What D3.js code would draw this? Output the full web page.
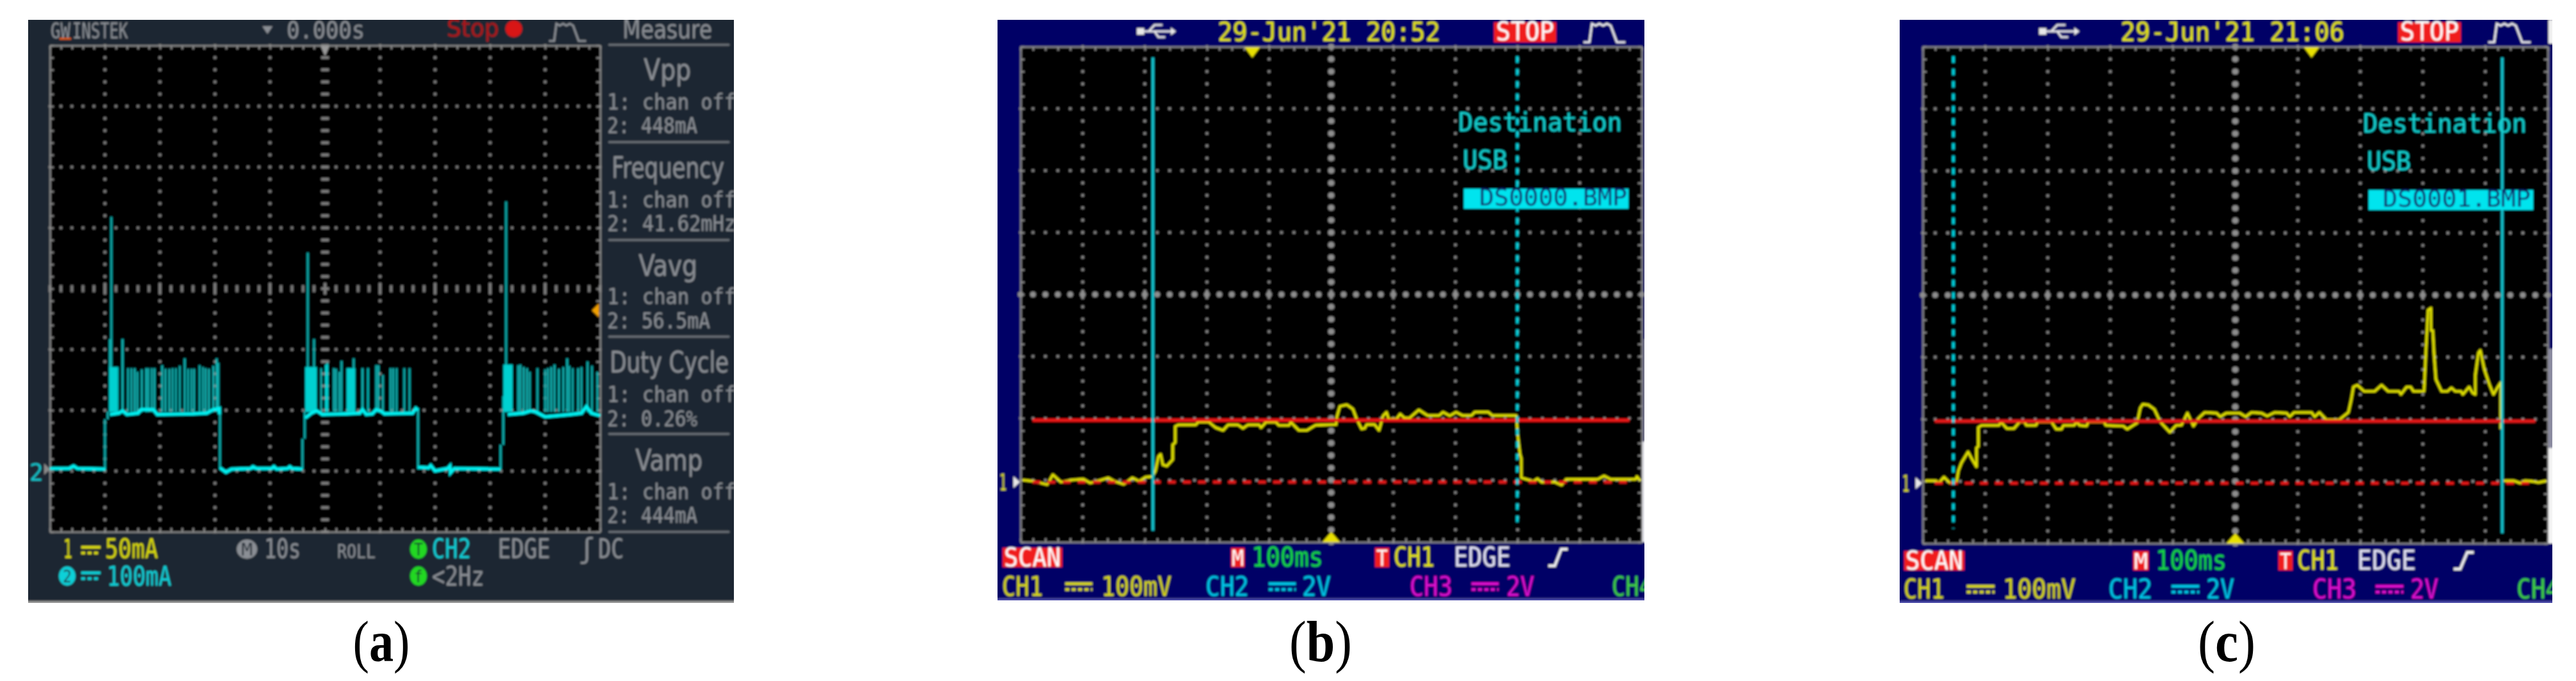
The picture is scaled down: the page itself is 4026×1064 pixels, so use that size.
<!DOCTYPE html>
<html><head><meta charset="utf-8">
<script src="https://cdn.jsdelivr.net/npm/d3@7/dist/d3.min.js"></script>
<style>html,body{margin:0;padding:0;background:#fff}svg{display:block}</style>
</head><body><div id="chart"></div>
<script>
// ---------- values ----------
// Panel (a): 10 s/div, 100 mA/div, time in s, current in mA
const aLow1=[[0,1],[3.5,1],[4.3,5],[5,1],[10.1,0]];
const aLow2=[[30.9,2],[32,-5],[33,0],[36.5,1],[36.9,4],[37.5,1],[40.3,1],[40.7,4],[41.2,0],[43.2,1],[43.6,4],[44,1],[45.9,0]];
const aLow3=[[66.9,3],[68.8,2],[69.2,6],[70,-3],[72.3,1],[72.7,5],[72.8,-6],[73.5,1],[81.9,0]];
const aHigh1=[[10.9,90],[12.5,92],[13.2,96],[14,90],[16,92],[16.6,98],[18.8,98],[19.5,90],[26,91],[28.5,92],[29.7,98],[30.8,100],[30.8,90]];
const aHigh2=[[46.4,84],[47.5,92],[48.5,96],[49.5,90],[53.9,91],[56.3,92],[56.8,98],[57.5,90],[58.6,91],[59.3,98],[60.2,95],[60.8,91],[65.9,92],[66.5,100],[66.9,97]];
const aHigh3=[[83.2,90],[86,92],[87.4,96],[88.3,94],[90,86],[94.6,90],[96.6,92],[97.5,103],[98.4,92],[100,88]];
const aEdges=[[10.0,0,82],[10.5,82,95],[30.9,100,0],[45.9,0,50],[46.3,50,95],[66.9,100,0],[81.9,0,40],[82.4,40,120]];
const aBlocks=[[10.8,12.25,168],[46.4,48.5,168],[50,50.6,172],[53.9,55.5,166],[57.8,57.9,166],[82.4,84.1,172]];
const aSpikes=[[10.9,214],[11.16,415],[12.3,168],[13.2,214],[14.2,166],[14.8,166],[15.4,166],[15.9,160],[16.7,164],[17.5,166],[17.9,166],[18.5,166],[19,166],[20.4,171],[21,165],[21.7,165],[22.3,166],[22.9,166],[23.6,170],[24.5,182],[25.1,165],[25.7,165],[26.2,165],[27.2,171],[27.8,168],[28.3,166],[28.9,165],[29.7,170],[30.3,182],[30.6,175],[46.86,356],[48.0,214],[49.3,166],[50.4,175],[51.6,166],[52,165],[52.6,160],[53,178],[55.2,182],[56.8,166],[57.8,166],[59.3,171],[59.7,171],[60.5,155],[61.9,166],[62.4,166],[63,166],[64.4,166],[65.35,166],[82.9,440],[85.1,171],[85.5,172],[86.1,168],[86.7,166],[87.2,160],[88.6,166],[90,164],[90.5,166],[91.1,168],[91.7,172],[92.5,165],[93.3,168],[94,182],[94.4,170],[95,166],[96,166],[96.6,168],[97.7,177],[98.5,170],[99.5,160]];
const aTopSpikesBase=94;
// Panel (b): 100 ms/div, 100 mV/div, time in ms from screen left, volts in mV above ground
const traceB=[[3,3.5],[21,1.4],[43,-4],[52,12],[65,0],[83,3.5],[101,5],[112,-1.4],[130,3.5],[141,7],[151,1.4],[166,-3.5],[180,7],[191,1.4],[201,8],[212,9],[217,17.5],[222,41.6],[225.5,45],[229,28],[235.6,26],[245,36.5],[245,60.5],[249,64],[249,90],[254,92.5],[282,92.5],[286,97],[303,97],[314,88],[326,83.6],[334,92.5],[350,92.5],[358,87],[366,92.5],[384,92.5],[387,88],[395,96.7],[411,96.7],[416,91.5],[432,91.5],[435,96.7],[448,83.6],[461,83.6],[475,92],[508,93],[509,105],[514,122.5],[525,125],[535,118],[541,102],[549,86],[554,87],[557,93],[570,93],[577,83.6],[583.5,107],[589,113],[592.5,102],[605,102],[611,110],[618,103.5],[626,103.5],[641,116.6],[655,107.7],[674,107.7],[680,113],[691,107],[701,113],[711,107.7],[726,107.7],[731,113],[753,113],[759,107.7],[798,107.7],[800,78],[804,45],[806,38],[806,7],[814.5,4.5],[825,1],[832,5.5],[839,-0.3],[859.5,0.3],[871,-4.8],[878,4.5],[929,4.5],[939,10],[950,4.5],[990,4.5],[992,9],[998,2]];
const refB=[19.5,980], levelB=100, cursorsB=[213,799.5], triggerB=373;
// Panel (c): same units as (b)
const traceC1=[[4,4],[21,4],[26,0.7],[34,10],[43,0.7],[54,0.7],[57,19.6],[62,33],[72.5,50.5],[79,38.5],[86,26.5],[86,57],[89,59],[89,90],[94,93],[122,93],[125,98.6],[134.6,88],[146,88],[155,98.6],[162.6,98.6],[166,93],[181,93],[184,98.6],[206,98.6],[213.5,87],[222,87],[225,93],[242,93],[246.4,98.6],[251,93],[262,92],[265,98.6],[290,98.6],[293,93],[321,92],[327,87],[336.5,93],[343,97],[348,121],[352,127],[361,126],[370.6,119],[380,98.6],[395.5,82],[405,93],[414,93.5],[423.4,113],[433,92],[442,105.5],[451,114],[470,113],[476,107],[485.5,113],[507,113],[516.6,107],[526,114],[541.4,113],[551,108],[563,114],[582,113],[587,107],[594,114],[622,114],[627,107],[634.5,114],[646,102],[666,102],[681,114],[685.5,134.7],[689,155],[695.4,158],[706,148],[723,148],[734,158],[744.5,148],[762,148],[765,143],[774,155],[780.5,155],[785,148],[802,148],[805,214],[808.4,279],[813,282],[813,246],[816,246],[818,207],[821,167],[830,148],[839.5,148],[845.7,153.6],[852,148],[861,148],[864,143],[874,155],[880,145],[884,143],[884,174],[889,210],[892,214],[898.5,183],[906.5,159],[913,143],[920,155],[924.5,162],[924.5,87]];
const traceC2=[[929.5,4],[945,4],[956,0],[963.7,4],[975,3],[985,1],[998,4]];
const refC=[19.5,980], levelC=100, cursorsC=[49,927], triggerC=622;
// Text
const measureTitles=["Vpp","Frequency","Vavg","Duty Cycle","Vamp"];
const measureCh1=["1: chan off","1: chan off","1: chan off","1: chan off","1: chan off"];
const measureCh2=["2: 448mA","2: 41.62mHz","2: 56.5mA","2: 0.26%","2: 444mA"];
const dateB="29-Jun'21 20:52", dateC="29-Jun'21 21:06";
const fileB="DS0000.BMP", fileC="DS0001.BMP";

// ---------- drawing ----------
const W=4026,H=1064;
const svg=d3.select("#chart").append("svg").attr("width",W).attr("height",H).attr("viewBox",`0 0 ${W} ${H}`);
svg.append("rect").attr("width",W).attr("height",H).attr("fill","#fff");
const defs=svg.append("defs");
defs.append("filter").attr("id","soft").attr("filterUnits","userSpaceOnUse").attr("x",0).attr("y",0).attr("width",W).attr("height",H)
  .append("feGaussianBlur").attr("stdDeviation",1.5);
const MONO="'DejaVu Sans Mono',monospace", SANS="'DejaVu Sans',sans-serif";
const GREY="#8b8f95";
let clipId=0;
function panel(x0,x1,y0,y1,fill,edge){
  const id="clip"+(clipId++);
  defs.append("clipPath").attr("id",id).append("rect").attr("x",x0).attr("y",y0).attr("width",x1-x0).attr("height",y1-y0);
  const g=svg.append("g").attr("clip-path",`url(#${id})`).append("g").attr("filter","url(#soft)");
  g.append("rect").attr("x",x0-6).attr("y",y0-6).attr("width",x1-x0+12).attr("height",y1-y0+6).attr("fill",fill);
  g.append("rect").attr("x",x0-6).attr("y",y1-3).attr("width",x1-x0+12).attr("height",6).attr("fill",edge);
  return g;
}
function label(g,s,x0,x1,base,size,color,family){
  return g.append("text").attr("x",x0).attr("y",base).attr("font-family",family||MONO).attr("font-size",size)
    .attr("fill",color).attr("textLength",x1-x0).attr("lengthAdjust","spacingAndGlyphs").text(s);
}
function box(g,x0,x1,y0,y1,c,r){return g.append("rect").attr("x",x0).attr("y",y0).attr("width",x1-x0).attr("height",y1-y0).attr("fill",c).attr("rx",r||0);}
function screen(g,x,y,xMajor,yMajor,xMinor,yMinor,style){
  const [xa,xb]=x.range(),[ya,yb]=y.range();
  const sc=g.append("g");
  box(sc,xa,xb,yb,ya,"#000");
  const xC=xMajor[Math.floor(xMajor.length/2)], yC=yMajor[Math.floor(yMajor.length/2)];
  yMajor.slice(1,-1).forEach(v=>{
    sc.append("g").selectAll("rect").data(xMinor).join("rect")
      .attr("x",d=>x(d)-(v===yC?style.cw/2:style.dot/2)).attr("y",d=>y(v)-(v===yC?style.ch/2:style.dot/2))
      .attr("width",v===yC?style.cw:style.dot).attr("height",v===yC?style.ch:style.dot)
      .attr("rx",v===yC?style.cr:0).attr("fill",v===yC?style.cc:style.c);
  });
  xMajor.slice(1,-1).forEach(u=>{
    sc.append("g").selectAll("rect").data(yMinor).join("rect")
      .attr("x",d=>x(u)-(u===xC?style.vw/2:style.dot/2)).attr("y",d=>y(d)-(u===xC?style.vh/2:style.dot/2))
      .attr("width",u===xC?style.vw:style.dot).attr("height",u===xC?style.vh:style.dot)
      .attr("rx",u===xC?style.vr:0).attr("fill",u===xC?style.cc:style.c);
    sc.append("rect").attr("x",x(u)-style.dot/2).attr("y",y(yC)-style.xh/2).attr("width",style.dot).attr("height",style.xh).attr("fill",style.cc);
  });
  const ax=(gen,tr)=>{const a=sc.append("g").attr("transform",tr).call(gen.tickFormat("").tickSizeOuter(0));
    a.selectAll("line,path").attr("stroke",style.frame).attr("stroke-width",2.5);a.select("path").attr("fill","none");};
  ax(d3.axisTop(x).tickValues(xMinor).tickSize(-6),`translate(0,${yb})`);
  ax(d3.axisBottom(x).tickValues(xMinor).tickSize(-6),`translate(0,${ya})`);
  ax(d3.axisLeft(y).tickValues(yMinor).tickSize(-6),`translate(${xa},0)`);
  ax(d3.axisRight(y).tickValues(yMinor).tickSize(-6),`translate(${xb},0)`);
}
function pulseIcon(g,x0,x1,y0,y1,c){
  const w=x1-x0,h=y1-y0;
  g.append("path").attr("fill","none").attr("stroke",c).attr("stroke-width",3)
   .attr("d",`M${x0},${y1}h${w*.14}L${x0+w*.2},${y0}`+d3.range(5).map(i=>`l${w*.09},${i%2?-3:3}`).join("")+`L${x0+w*.8},${y1}h${w*.2}`);
}
function symbol(g,x0,x1,yc,c){
  box(g,x0,x1,yc-7,yc-3,c);
  g.append("line").attr("x1",x0).attr("x2",x1).attr("y1",yc+4).attr("y2",yc+4).attr("stroke",c).attr("stroke-width",4).attr("stroke-dasharray","6 4");
}
function tri(g,x,y0,y1,w,c){g.append("path").attr("d",`M${x-w},${y0}H${x+w}L${x},${y1}Z`).attr("fill",c);}

// ---------- Panel (a) ----------
{
  const g=panel(44,1147,31,942,"#1f2833","#9a9a9a");
  const x=d3.scaleLinear().domain([0,100]).range([78,938]);
  const y=d3.scaleLinear().domain([-103.2,696.8]).range([831,71]);
  const xMajor=d3.range(0,101,10), xMinor=d3.range(0,100.1,2);
  const y0=-103.2,yMajor=d3.range(0,9).map(i=>y0+i*100), yMinor=d3.range(0,41).map(i=>y0+i*20);
  screen(g,x,y,xMajor,yMajor,xMinor,yMinor,{dot:4,c:"#7c7c7c",cc:"#7c7c7c",cw:4,ch:11,cr:0,vw:12,vh:4,vr:0,xh:18,frame:"#8a8a8a"});
  const line=d3.line().x(d=>x(d[0])).y(d=>y(d[1]));
  const traces=g.append("g");
  traces.selectAll("line.edge").data(aEdges).join("line").attr("x1",d=>x(d[0])).attr("x2",d=>x(d[0])).attr("y1",d=>y(d[1])).attr("y2",d=>y(d[2])).attr("stroke","#0ab0b0").attr("stroke-width",3);
  traces.selectAll("line.spike").data(aSpikes).join("line").attr("x1",d=>x(d[0])).attr("x2",d=>x(d[0])).attr("y1",y(aTopSpikesBase)).attr("y2",d=>y(d[1])).attr("stroke","#0ab0b0").attr("stroke-width",3);
  traces.selectAll("rect").data(aBlocks).join("rect").attr("x",d=>x(d[0])).attr("width",d=>x(d[1])-x(d[0])).attr("y",d=>y(d[2])).attr("height",d=>y(aTopSpikesBase)-y(d[2])).attr("fill","#00d0d0");
  [aLow1,aLow2,aLow3,aHigh1,aHigh2,aHigh3].forEach(a=>traces.append("path").attr("d",line(a)).attr("fill","none").attr("stroke","#00f2f2").attr("stroke-width",5));
  label(g,"2",46,68,751,38,"#13c4cc",SANS);
  g.append("path").attr("d",`M69,724L78,733L69,742Z`).attr("fill","#8a8a8a");
  g.append("path").attr("d",`M925,485L936,474V496Z`).attr("fill","#f2a000");
  tri(g,508,72,88,7,"#9a9a9a");
  label(g,"GW",79,110,60,34,GREY); box(g,93,111,59,62,"#d85a10");
  label(g,"INSTEK",113,200,60,34,GREY);
  tri(g,418,41,53,8,"#8b8f95");
  label(g,"0.000s",448,570,60,38,GREY);
  label(g,"Stop",698,780,57,38,"#b01414",SANS);
  g.append("circle").attr("cx",803).attr("cy",45).attr("r",13).attr("fill","#d81414");
  pulseIcon(g,858,916,37,64,GREY);
  label(g,"Measure",973,1113,60,40,GREY,SANS);
  [70,222,375,526,678,831].forEach(v=>box(g,951,1140,v-1.5,v+1.5,"#6f757c"));
  const titleX=[[1006,1080],[956,1132],[998,1090],[953,1139],[993,1098]];
  const titleY=[125,278,431,582,735], r1=[171,324,475,628,780], r2=[208,361,513,666,817], r2x=[1090,1150,1110,1090,1090];
  measureTitles.forEach((s,i)=>{
    label(g,s,titleX[i][0],titleX[i][1],titleY[i],46,GREY,SANS);
    label(g,measureCh1[i],949,1150,r1[i],34,GREY);
    label(g,measureCh2[i],949,r2x[i],r2[i],34,GREY);
  });
  label(g,"1",99,113,872,40,"#d8d800"); symbol(g,127,157,860,"#d8d800"); label(g,"50mA",164,247,872,42,"#d8d800");
  g.append("ellipse").attr("cx",105).attr("cy",900).attr("rx",13).attr("ry",15).attr("fill","#10d0d8");
  label(g,"2",98,112,910,26,"#1f2833"); symbol(g,127,157,900,"#10d0d8"); label(g,"100mA",167,268,915,42,"#10d0d8");
  g.append("ellipse").attr("cx",386).attr("cy",858).attr("rx",16).attr("ry",15).attr("fill","#8b8f95");
  label(g,"M",377,395,868,26,"#1f2833"); label(g,"10s",413,470,872,42,GREY); label(g,"ROLL",527,587,872,30,GREY);
  [858,900].forEach((v,i)=>{g.append("ellipse").attr("cx",654).attr("cy",v).attr("rx",13).attr("ry",15).attr("fill","#20d820");
    label(g,i?"f":"T",647,661,v+10,26,"#1f2833");});
  label(g,"CH2",675,736,872,42,"#10d0d8"); label(g,"EDGE",778,860,872,42,GREY);
  label(g,"\u0283",905,929,872,42,GREY); label(g,"DC",935,975,872,42,GREY);
  label(g,"<2Hz",675,757,915,42,GREY);
}

// ---------- Panels (b) and (c) ----------
function scope(o){
  const g=panel(o.px0,o.px1,31,o.py1,"#000066","#4a4aa8");
  const x=d3.scaleLinear().domain([0,1000]).range([o.sx0,o.sx1]);
  const y=d3.scaleLinear().domain(o.yDomain).range([o.sy1,73]);
  const xMajor=d3.range(0,1001,100), xMinor=d3.range(0,1001,20);
  const yMajor=d3.range(0,9).map(i=>o.yDomain[0]+i*100), yMinor=d3.range(0,41).map(i=>o.yDomain[0]+i*20);
  screen(g,x,y,xMajor,yMajor,xMinor,yMinor,{dot:4,c:"#8a8a8a",cc:"#8e8e8e",cw:9,ch:9,cr:4.5,vw:10,vh:9,vr:4.5,xh:14,frame:"#8c8c8c"});
  const line=d3.line().x(d=>x(d[0])).y(d=>y(d[1]));
  o.traces.forEach(t=>g.append("path").attr("d",line(t)).attr("fill","none").attr("stroke","#e0e000").attr("stroke-width",3.8).attr("stroke-linejoin","round"));
  g.append("line").attr("x1",x(o.ref[0])).attr("x2",x(o.ref[1])).attr("y1",y(o.level)).attr("y2",y(o.level)).attr("stroke","#e81818").attr("stroke-width",5);
  g.append("line").attr("x1",x(o.ref[0])).attr("x2",x(o.ref[1])).attr("y1",y(0)).attr("y2",y(0)).attr("stroke","#e81818").attr("stroke-width",4.5).attr("stroke-dasharray","12 11.5");
  o.cursors.forEach((c,i)=>{
    const dashed=i===o.dashedIndex;
    g.append("line").attr("x1",x(c)).attr("x2",x(c)).attr("y1",dashed?o.cy0:90).attr("y2",dashed?o.cy1-7:o.cy1).attr("stroke",dashed?"#00d4e0":"#14c6d2").attr("stroke-width",4).attr("stroke-dasharray",dashed?"10 9.4":null);
  });
  tri(g,x(o.trigger),74,90,12,"#e8e000");
  g.append("path").attr("d",`M${x(500)-14},${o.sy1}H${x(500)+14}L${x(500)},${o.sy1-16}Z`).attr("fill","#e8e000");
  label(g,"1",o.gx,o.gx+11,y(0)+13,36,"#d8d800");
  g.append("path").attr("d",`M${o.sx0-11},${y(0)-9}L${o.sx0-1},${y(0)}L${o.sx0-11},${y(0)+9}Z`).attr("fill","#e8e8e8");
  const ux=o.usb[0], uw=o.usb[1]-o.usb[0];
  g.append("path").attr("fill","none").attr("stroke","#e8e8e8").attr("stroke-width",3)
    .attr("d",`M${ux+8},49H${ux+uw-6}M${ux+uw*.3},49L${ux+uw*.45},39H${ux+uw*.65}M${ux+uw*.45},49L${ux+uw*.55},58H${ux+uw*.72}`);
  box(g,ux,ux+11,44,54,"#e8e8e8");
  g.append("path").attr("d",`M${ux+uw-8},43L${ux+uw},49L${ux+uw-8},55Z`).attr("fill","#e8e8e8");
  label(g,o.date,o.dateX[0],o.dateX[1],64,41,"#e6e600");
  box(g,o.stop[0],o.stop[1],35,66,"#f01c1c");
  label(g,"STOP",o.stop[0]+3,o.stop[1]-3,63,40,"#fff");
  pulseIcon(g,o.pulse[0],o.pulse[1],37,66,"#f0f0f0");
  label(g,"Destination",o.dest[0],o.dest[1],o.dy,40,"#12d0d0");
  label(g,"USB",o.usbTxt[0],o.usbTxt[1],o.dy+59,40,"#12d0d0");
  box(g,o.fbox[0],o.fbox[1],o.dy+90,o.dy+121,"#00e4ee");
  label(g,o.file,o.ftxt[0],o.ftxt[1],o.dy+116,37,"#10206a");
  const rows=o.f, b1=o.b1, b2=o.b2;
  box(g,rows.scan[0],rows.scan[1],b1-29,b1+1,"#f01c1c"); label(g,"SCAN",rows.scan[0]+2,rows.scan[1]-2,b1,40,"#fff");
  box(g,rows.m[0],rows.m[1],b1-29,b1+1,"#f01c1c"); label(g,"M",rows.m[0]+1,rows.m[1]-1,b1-1,34,"#fff");
  label(g,"100ms",rows.ms[0],rows.ms[1],b1,42,"#18d840");
  box(g,rows.t[0],rows.t[1],b1-29,b1+1,"#f01c1c"); label(g,"T",rows.t[0]+2,rows.t[1]-2,b1-1,34,"#fff");
  label(g,"CH1",rows.ch[0],rows.ch[1],b1,42,"#e6e600");
  label(g,"EDGE",rows.edge[0],rows.edge[1],b1,42,"#e4e4f4");
  g.append("path").attr("fill","none").attr("stroke","#f0f0f0").attr("stroke-width",4)
    .attr("d",`M${rows.slope[0]},${b1-1}h10L${rows.slope[1]-10},${b1-27}h10`);
  const row=(s,a,c)=>label(g,s,a[0],a[1],b2,42,c);
  row("CH1",rows.c1,"#d8d800"); symbol(g,rows.s1[0],rows.s1[1],b2-14,"#d8d800"); row("100mV",rows.v1,"#d8d800");
  row("CH2",rows.c2,"#00c8e8"); symbol(g,rows.s2[0],rows.s2[1],b2-14,"#00c8e8"); row("2V",rows.v2,"#00c8e8");
  row("CH3",rows.c3,"#e010d0"); symbol(g,rows.s3[0],rows.s3[1],b2-14,"#e010d0"); row("2V",rows.v3,"#e010d0");
  row("CH4",rows.c4,"#40d040");
  o.strips.forEach(s=>box(g,o.sx1+1,o.px1+6,s[0],s[1],s[2]));
}
scope({px0:1559,px1:2570,py1:938,sx0:1595,sx1:2566,sy1:847,yDomain:[-96.9,703.1],
  traces:[traceB],ref:refB,level:levelB,cursors:cursorsB,dashedIndex:1,trigger:triggerB,cy0:88,cy1:829,gx:1562,
  usb:[1777,1838],date:dateB,dateX:[1903,2251],stop:[2335,2432],pulse:[2475,2540],
  dest:[2279,2535],dy:205,usbTxt:[2286,2356],fbox:[2288,2545],file:fileB,ftxt:[2312,2543],
  b1:885,b2:931,f:{scan:[1567,1660],m:[1924,1945],ms:[1956,2068],t:[2149,2171],ch:[2178,2242],edge:[2272,2361],slope:[2420,2450],
    c1:[1566,1630],s1:[1665,1707],v1:[1721,1831],c2:[1884,1952],s2:[1983,2025],v2:[2035,2080],c3:[2203,2270],s3:[2300,2342],v3:[2354,2398],c4:[2519,2583]},
  strips:[[530,690,"#666680"],[690,847,"#e8e8ee"]]});
scope({px0:2969,px1:3989,py1:942,sx0:3005,sx1:3982,sy1:849,yDomain:[-97,703],
  traces:[traceC1,traceC2],ref:refC,level:levelC,cursors:cursorsC,dashedIndex:0,trigger:triggerC,cy0:88,cy1:833,gx:2973,
  usb:[3187,3250],date:dateC,dateX:[3314,3664],stop:[3748,3846],pulse:[3889,3955],
  dest:[3693,3949],dy:207,usbTxt:[3699,3768],fbox:[3702,3959],file:fileC,ftxt:[3724,3955],
  b1:890,b2:935,f:{scan:[2976,3070],m:[3334,3358],ms:[3369,3480],t:[3561,3583],ch:[3590,3655],edge:[3684,3776],slope:[3835,3866],
    c1:[2975,3039],s1:[3074,3117],v1:[3130,3244],c2:[3295,3364],s2:[3394,3437],v2:[3448,3492],c3:[3614,3683],s3:[3713,3756],v3:[3767,3811],c4:[3933,4001]},
  strips:[[31,68,"#f0f0f0"],[545,700,"#8a8aa0"],[700,849,"#f4f4f4"]]});

// ---------- sub-figure labels ----------
[["a",596,89],["b",2064,98],["c",3480,90]].forEach(([s,cx,w])=>{
  const t=svg.append("text").attr("x",cx-w/2).attr("y",1033).attr("font-family","'Liberation Serif',serif").attr("font-size",90).attr("fill","#000")
    .attr("textLength",w).attr("lengthAdjust","spacingAndGlyphs");
  t.append("tspan").text("(");
  t.append("tspan").attr("font-weight","bold").text(s);
  t.append("tspan").text(")");
});
</script></body></html>
